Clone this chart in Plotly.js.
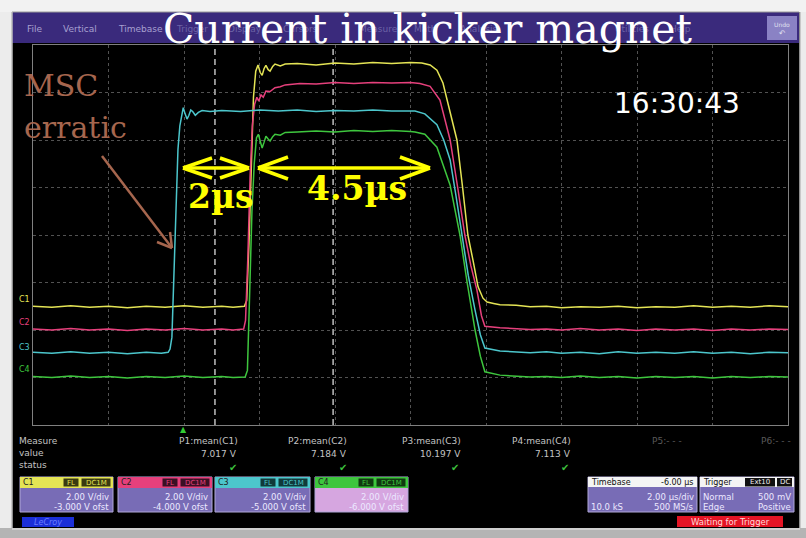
<!DOCTYPE html>
<html><head><meta charset="utf-8">
<script src="https://cdn.plot.ly/plotly-3.0.1.min.js"></script>
<style>html,body{margin:0;padding:0;background:#ececec;}#chart{width:806px;height:538px;}</style>
</head><body><div id="chart"></div>
<script>
// ---- Data (time in µs relative to trigger, level in screen divisions) ----
const c1Time=[-4,-3.5,-3,-2.5,-2,-1.5,-1,-0.5,0,0.5,1,1.3,1.6,1.66,1.72,1.78,1.84,1.90,1.96,2.02,2.07,2.12,2.17,2.23,2.28,2.35,2.41,2.55,2.68,3,3.5,4,4.5,5,5.5,6,6.3,6.52,6.70,6.86,7.05,7.23,7.38,7.52,7.66,7.79,7.92,8.03,8.2,8.37,8.8,9.17,9.6,10,10.5,11,11.5,12,12.5,13,13.5,14,14.5,15,15.5,16];
const c1Div=[-1.50,-1.52,-1.49,-1.52,-1.50,-1.53,-1.50,-1.52,-1.49,-1.52,-1.50,-1.52,-1.50,-1.38,-0.2,1.6,2.9,3.45,3.58,3.42,3.36,3.5,3.57,3.48,3.45,3.55,3.60,3.56,3.60,3.61,3.58,3.62,3.60,3.63,3.61,3.63,3.62,3.58,3.47,3.2,2.6,2.0,1.0,0.0,-0.55,-1.09,-1.33,-1.41,-1.44,-1.47,-1.48,-1.51,-1.50,-1.53,-1.51,-1.52,-1.50,-1.53,-1.51,-1.52,-1.49,-1.52,-1.50,-1.52,-1.49,-1.51];

const c2Time=[-4,-3.5,-3,-2.5,-2,-1.5,-1,-0.5,0,0.5,1,1.3,1.58,1.63,1.69,1.75,1.81,1.87,1.93,1.98,2.04,2.10,2.17,2.28,2.41,2.55,2.68,3.07,3.5,4,4.5,5,5.5,6,6.25,6.52,6.78,7.05,7.25,7.44,7.6,7.76,7.88,7.97,8.37,9.17,9.6,10,10.5,11,11.5,12,12.5,13,13.5,14,14.5,15,15.5,16];
const c2Div=[-1.98,-2.0,-1.97,-2.0,-1.98,-2.01,-1.98,-2.0,-1.97,-2.0,-1.98,-2.0,-1.98,-1.8,-0.5,1.2,2.3,2.75,2.9,2.82,2.95,2.9,3.03,3.02,3.1,3.12,3.16,3.19,3.18,3.21,3.19,3.21,3.2,3.21,3.19,3.13,2.84,2.0,1.0,0.0,-0.65,-1.16,-1.7,-1.92,-1.95,-1.99,-1.98,-2.0,-1.97,-2.0,-1.98,-2.01,-1.98,-2.0,-1.98,-2.01,-1.98,-2.0,-1.98,-1.99];

const c3Time=[-4,-3.5,-3,-2.5,-2,-1.5,-1,-0.6,-0.42,-0.37,-0.32,-0.27,-0.21,-0.16,-0.11,-0.06,-0.02,0.03,0.08,0.13,0.18,0.23,0.30,0.38,0.48,0.69,1,1.5,2,2.5,3,3.5,4,4.5,5,5.5,6,6.12,6.38,6.70,6.88,7.05,7.2,7.36,7.53,7.71,7.85,7.97,8.37,9.17,9.6,10,10.5,11,11.5,12,12.5,13,13.5,14,14.5,15,15.5,16];
const c3Div=[-2.47,-2.49,-2.46,-2.49,-2.47,-2.5,-2.47,-2.49,-2.47,-2.4,-2.15,-1.0,0.8,1.8,2.3,2.55,2.68,2.55,2.44,2.52,2.63,2.6,2.52,2.58,2.62,2.6,2.62,2.6,2.63,2.61,2.63,2.6,2.62,2.61,2.63,2.61,2.62,2.61,2.55,2.32,2.0,1.58,0.85,0.0,-0.85,-1.58,-2.1,-2.38,-2.44,-2.48,-2.46,-2.49,-2.47,-2.5,-2.46,-2.49,-2.47,-2.49,-2.46,-2.49,-2.47,-2.5,-2.47,-2.48];

const c4Time=[-4,-3.5,-3,-2.5,-2,-1.5,-1,-0.5,0,0.5,1,1.3,1.62,1.68,1.74,1.80,1.86,1.92,1.97,2.02,2.07,2.12,2.17,2.23,2.28,2.35,2.41,2.55,2.68,3,3.5,4,4.5,5,5.5,6,6.12,6.38,6.70,7.05,7.31,7.5,7.71,7.85,7.97,8.37,9.17,9.6,10,10.5,11,11.5,12,12.5,13,13.5,14,14.5,15,15.5,16];
const c4Div=[-2.98,-3.0,-2.97,-3.0,-2.98,-3.01,-2.98,-3.0,-2.97,-3.0,-2.98,-3.0,-2.99,-2.85,-1.2,0.5,1.5,2.05,2.12,1.95,1.83,1.95,2.08,2.02,1.98,2.07,2.12,2.1,2.16,2.17,2.19,2.17,2.2,2.18,2.2,2.18,2.17,2.12,1.85,1.05,0.0,-1.0,-2.0,-2.55,-2.88,-2.95,-2.99,-2.98,-3.0,-2.97,-3.0,-2.98,-3.01,-2.98,-3.0,-2.98,-3.01,-2.98,-3.0,-2.98,-2.99];

const channelNames=['C1','C2','C3','C4'];
const channelColors=['#e4e455','#e6407c','#4cc6cc','#3ec63e'];
const voltsPerDiv=['2.00 V/div','2.00 V/div','2.00 V/div','2.00 V/div'];
const offsetLabels=['-3.000 V ofst','-4.000 V ofst','-5.000 V ofst','-6.000 V ofst'];
const measureLabels=['P1:mean(C1)','P2:mean(C2)','P3:mean(C3)','P4:mean(C4)','P5:- - -','P6:- - -'];
const measureValues=['7.017 V','7.184 V','10.197 V','7.113 V'];
const cursorTimes=[0.82,3.95];
const menuItems=['File','Vertical','Timebase','Trigger','Display','Cursors','Measure','Math','Analysis','Utilities','Help'];

// ---- helpers (pixel -> paper) ----
const W=806,H=538;
const px=x=>x/W, py=y=>1-y/H;
const shapes=[], annotations=[];
function rect(x0,y0,x1,y1,fill,line,layer){shapes.push({type:'rect',xref:'paper',yref:'paper',x0:px(x0),x1:px(x1),y0:py(y0),y1:py(y1),fillcolor:fill,line:line||{width:0},layer:layer||'below'});}
function seg(x0,y0,x1,y1,color,width,dash){shapes.push({type:'line',xref:'paper',yref:'paper',x0:px(x0),x1:px(x1),y0:py(y0),y1:py(y1),line:{color:color,width:width,dash:dash||'solid'},layer:'above'});}
function txt(x,y,text,size,color,xanchor,family,extra){annotations.push(Object.assign({xref:'paper',yref:'paper',x:px(x),y:py(y),text:text,showarrow:false,xanchor:xanchor||'center',yanchor:'middle',borderpad:0,font:{size:size,color:color,family:family||'DejaVu Sans'}},extra||{}));}

// frame
rect(0,0,806,12,'#f2f2f2');
rect(12,12,800,528,'#000000');
rect(12,12,799,43,'#3a2a7c');
seg(12,12,799,12,'#9a9a9a',1);
rect(767,16,797,40,'#8a82c4');
txt(782,24,'Undo',6,'#e0e0f0');
txt(782,33,'↶',8,'#e0e0f0');
rect(0,528,806,538,'#b4b4b4');
seg(12,529,800,529,'#d8d8d8',1.5);
seg(800,12,800,528,'#bdbdbd',1.5);
seg(12,12,12,528,'#bdbdbd',1.5);

// menu (partly hidden behind the big title, as in the screenshot)
const menuX=[35,80,140,192,245,300,378,425,478,632,680];
menuItems.forEach((m,i)=>txt(menuX[i],29,m,9,i<3?'#a8a0d0':'#6c62a6'));

// cursors
cursorTimes.forEach(t=>shapes.push({type:'line',xref:'x',yref:'y',x0:t,x1:t,y0:-4,y1:4,line:{color:'rgba(225,225,225,0.85)',width:1.5,dash:'6px,4px'},layer:'below'}));

// channel labels on left
const labelY=[299,322,347,369];
channelNames.forEach((c,i)=>txt(24,labelY[i],c,8,channelColors[i]));

// trigger marker
txt(183,429,'▲',8,'#33cc33');

// yellow interval arrows
const Y='#ffff00';
seg(183,168,249,168,Y,3.5);seg(183,168,212,158,Y,3.5);seg(183,168,212,178,Y,3.5);seg(249,168,220,158,Y,3.5);seg(249,168,220,178,Y,3.5);
seg(258,168,430,168,Y,3.5);seg(258,168,288,157,Y,3.5);seg(258,168,288,179,Y,3.5);seg(430,168,400,157,Y,3.5);seg(430,168,400,179,Y,3.5);
txt(221,196,'<b>2µs</b>',33,Y,'center','DejaVu Serif');
txt(357,189,'<b>4.5µs</b>',33,Y,'center','DejaVu Serif');

// MSC erratic
const B='#a6664e';
txt(23,86,'MSC',30,B,'left','DejaVu Serif');
txt(23,127,'erratic',30,B,'left','DejaVu Serif');
seg(102,156,172,248,B,2.5);seg(172,248,170,232,B,2.5);seg(172,248,157,242,B,2.5);

// title & time
txt(428,29,'Current in kicker magnet',41,'#ffffff','center','DejaVu Serif');
txt(677,103,'16:30:43',28,'#ffffff','center','DejaVu Sans');

// measure table
const G='#c4c4c4';
txt(18,441,'Measure',9,G,'left');
txt(18,453,'value',9,G,'left');
txt(18,465,'status',9,G,'left');
const mX=[208,317,431,541,667,776];
measureLabels.forEach((m,i)=>txt(mX[i],441,m,9,i<4?G:'#5a5a5a'));
const vX=[238,348,462,572];
measureValues.forEach((v,i)=>txt(vX[i],454,v,9,G,'right'));
const ckX=[233,343,455,565];
ckX.forEach(x=>txt(x,467,'✔',10,'#3cbf3c'));

// channel boxes
const boxX=[[20,113],[118,212],[215,310],[315,408]];
const bodyCol=['#786cb6','#786cb6','#786cb6','#d6a6e0'];
const badgeBg=['#3a3a10','#3a1024','#103a3a','#103a10'];
boxX.forEach((b,i)=>{
  rect(b[0],477,b[1],512,bodyCol[i],{color:'#b0a8d8',width:1});
  rect(b[0],477,b[1],488,channelColors[i]);
  rect(b[1]-50,478,b[1]-34,487,badgeBg[i],{color:channelColors[i],width:1});
  rect(b[1]-32,478,b[1]-2,487,badgeBg[i],{color:channelColors[i],width:1});
  txt(b[0]+2,482.5,channelNames[i],8,'#202020','left');
  txt(b[1]-42,482.5,'FL',7,channelColors[i]);
  txt(b[1]-17,482.5,'DC1M',7,channelColors[i]);
  txt(b[1]-3,497,voltsPerDiv[i],8.5,'#ece8ff','right');
  txt(b[1]-3,507,offsetLabels[i],8.5,'#ece8ff','right');
});

// timebase / trigger
rect(588,477,697,512,'#786cb6',{color:'#b0a8d8',width:1});
rect(588,477,697,487,'#f4f4f4');
txt(590,482,'Timebase',8,'#101010','left');
txt(695,482,'-6.00 µs',8,'#101010','right');
txt(695,497,'2.00 µs/div',8.5,'#ece8ff','right');
txt(590,507,'10.0 kS',8.5,'#ece8ff','left');
txt(695,507,'500 MS/s',8.5,'#ece8ff','right');
rect(700,477,794,512,'#786cb6',{color:'#b0a8d8',width:1});
rect(700,477,794,487,'#f4f4f4');
txt(702,482,'Trigger',8,'#101010','left');
rect(745,478,775,486.5,'#101010');rect(777,478,792,486.5,'#101010');
txt(760,482,'Ext10',7,'#f0f0f0');txt(784.5,482,'DC',7,'#f0f0f0');
txt(702,497,'Normal',8.5,'#ece8ff','left');
txt(792,497,'500 mV',8.5,'#ece8ff','right');
txt(702,507,'Edge',8.5,'#ece8ff','left');
txt(792,507,'Positive',8.5,'#ece8ff','right');
rect(677,516,783,527,'#e41424');
txt(730,521.5,'Waiting for Trigger',8.5,'#ffd8d8');
rect(22,517,74,527,'#1b2fd8');
txt(48,522,'<i>LeCroy</i>',8,'#6a7cff');

const traceDefs=[[c1Time,c1Div],[c2Time,c2Div],[c3Time,c3Div],[c4Time,c4Div]];
const data=traceDefs.map((d,i)=>({type:'scatter',mode:'lines',x:d[0],y:d[1],name:channelNames[i],line:{color:channelColors[i],width:1.5},hoverinfo:'skip'}));

const gridCol='rgba(150,150,150,0.55)';
const layout={
  width:W,height:H,margin:{l:0,r:0,t:0,b:0},
  paper_bgcolor:'#ececec',plot_bgcolor:'rgba(0,0,0,0)',showlegend:false,
  xaxis:{domain:[33/W,788/W],range:[-4,16],tick0:-4,dtick:2,showticklabels:false,ticks:'',showgrid:true,gridcolor:gridCol,griddash:'dot',gridwidth:1,zeroline:false,showline:true,linecolor:'#808080',linewidth:1,mirror:true,fixedrange:true},
  yaxis:{domain:[1-425/H,1-45/H],range:[-4,4],dtick:1,showticklabels:false,ticks:'',showgrid:true,gridcolor:gridCol,griddash:'dot',gridwidth:1,zeroline:false,showline:true,linecolor:'#808080',linewidth:1,mirror:true,fixedrange:true},
  shapes:shapes,annotations:annotations
};
Plotly.newPlot('chart',data,layout,{staticPlot:true,displayModeBar:false});
</script></body></html>
